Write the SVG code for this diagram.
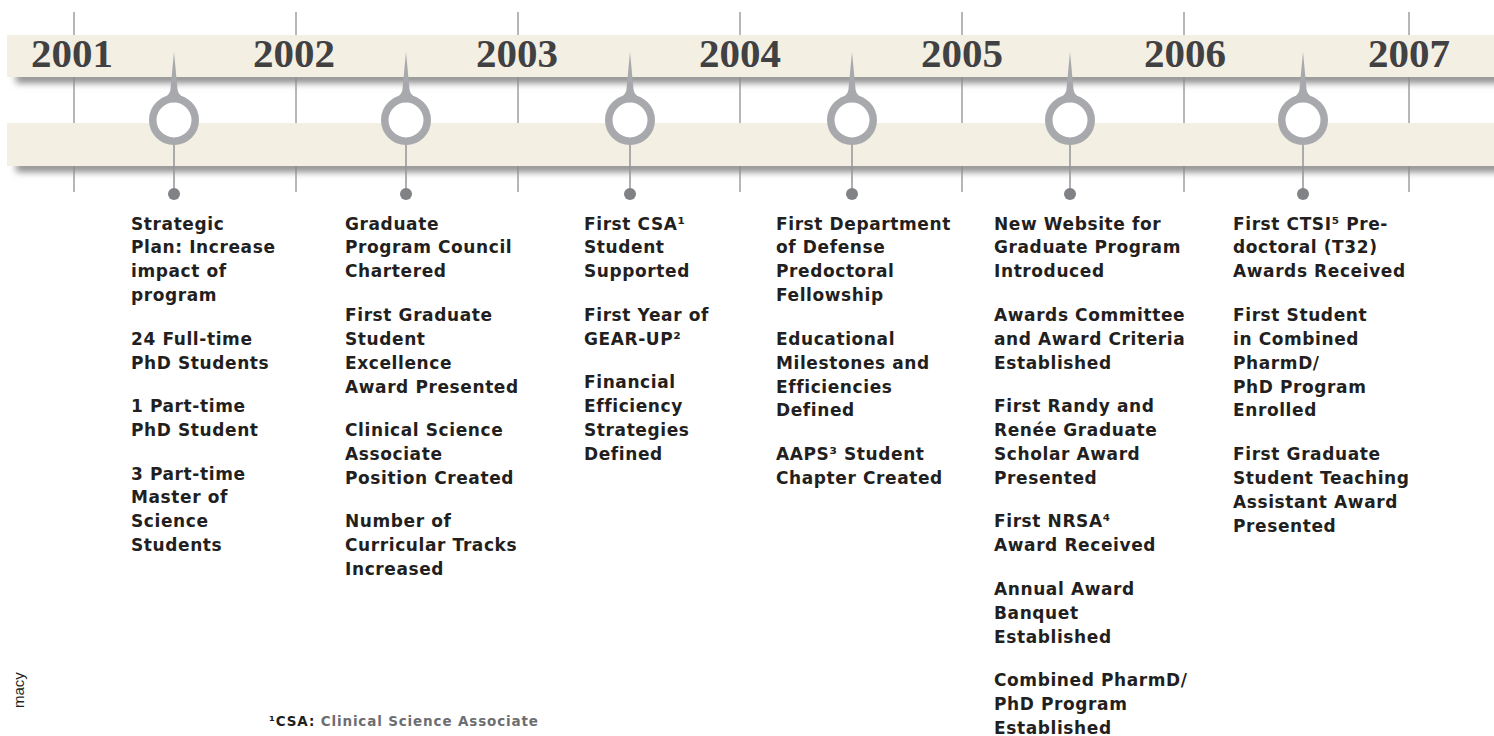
<svg xmlns="http://www.w3.org/2000/svg" width="1494" height="736" viewBox="0 0 1494 736">
<style>
.band{fill:#f3efe3}
.tick{stroke:#6d6e71;stroke-width:1}
.year{font-family:"Liberation Serif",serif;font-weight:bold;font-size:41px;fill:#414042;text-anchor:middle}
.ring{fill:#fff;stroke:#a7a9ac;stroke-width:7.5}
.spike{fill:#a7a9ac}
.stem{stroke:#939598;stroke-width:1.5}
.dot{fill:#808285}
.t{font-family:"DejaVu Sans","Liberation Sans",sans-serif;font-weight:bold;font-size:17px;letter-spacing:0.6px;fill:#231f20}
.fn{font-family:"DejaVu Sans","Liberation Sans",sans-serif;font-weight:bold;font-size:13.5px;letter-spacing:0.85px;fill:#6d6e71}
.side{font-family:"Liberation Sans",sans-serif;font-size:15px;fill:#231f20}
</style>
<defs>
<filter id="blur" x="-5%" y="-200%" width="110%" height="500%"><feGaussianBlur stdDeviation="3.5"/></filter>
<g id="pin"><path class="spike" d="M0,-68 L3.6,-30 Q5,-23.5 12,-22 L-12,-22 Q-5,-23.5 -3.6,-30 Z"/><circle class="ring" cx="0" cy="0" r="21.25"/></g>
</defs>
<rect width="1494" height="736" fill="#fff"/>
<g id="axis">
<g id="ticks">
<line class="tick" x1="74" y1="12" x2="74" y2="192"/>
<line class="tick" x1="296" y1="12" x2="296" y2="192"/>
<line class="tick" x1="518" y1="12" x2="518" y2="192"/>
<line class="tick" x1="740" y1="12" x2="740" y2="192"/>
<line class="tick" x1="962" y1="12" x2="962" y2="192"/>
<line class="tick" x1="1184" y1="12" x2="1184" y2="192"/>
<line class="tick" x1="1409" y1="12" x2="1409" y2="192"/>
</g>
<rect x="16" y="73" width="1490" height="10" fill="#8a8a8a" filter="url(#blur)"/>
<rect class="band" x="7" y="35" width="1487" height="42"/>
<rect x="16" y="162" width="1490" height="10" fill="#8a8a8a" filter="url(#blur)"/>
<rect class="band" x="7" y="123" width="1487" height="43"/>
<text class="year" x="72" y="67">2001</text>
<text class="year" x="294" y="67">2002</text>
<text class="year" x="517" y="67">2003</text>
<text class="year" x="740" y="67">2004</text>
<text class="year" x="962" y="67">2005</text>
<text class="year" x="1185" y="67">2006</text>
<text class="year" x="1409" y="67">2007</text>
</g>
<g id="connectors">
<line class="stem" x1="174" y1="145" x2="174" y2="194"/>
<line class="stem" x1="406" y1="145" x2="406" y2="194"/>
<line class="stem" x1="630" y1="145" x2="630" y2="194"/>
<line class="stem" x1="852" y1="145" x2="852" y2="194"/>
<line class="stem" x1="1070" y1="145" x2="1070" y2="194"/>
<line class="stem" x1="1303" y1="145" x2="1303" y2="194"/>
</g>
<g id="node2001">
<use href="#pin" x="174" y="120"/><circle class="dot" cx="174" cy="194" r="6"/>
<text class="t" y="229.5"><tspan x="131">Strategic</tspan><tspan x="131" dy="23.9">Plan: Increase</tspan><tspan x="131" dy="23.9">impact of</tspan><tspan x="131" dy="23.9">program</tspan><tspan x="131" dy="43.5">24 Full-time</tspan><tspan x="131" dy="23.9">PhD Students</tspan><tspan x="131" dy="43.5">1 Part-time</tspan><tspan x="131" dy="23.9">PhD Student</tspan><tspan x="131" dy="43.5">3 Part-time</tspan><tspan x="131" dy="23.9">Master of</tspan><tspan x="131" dy="23.9">Science</tspan><tspan x="131" dy="23.9">Students</tspan></text>
</g>
<g id="node2002">
<use href="#pin" x="406" y="120"/><circle class="dot" cx="406" cy="194" r="6"/>
<text class="t" y="229.5"><tspan x="345">Graduate</tspan><tspan x="345" dy="23.9">Program Council</tspan><tspan x="345" dy="23.9">Chartered</tspan><tspan x="345" dy="43.5">First Graduate</tspan><tspan x="345" dy="23.9">Student</tspan><tspan x="345" dy="23.9">Excellence</tspan><tspan x="345" dy="23.9">Award Presented</tspan><tspan x="345" dy="43.5">Clinical Science</tspan><tspan x="345" dy="23.9">Associate</tspan><tspan x="345" dy="23.9">Position Created</tspan><tspan x="345" dy="43.5">Number of</tspan><tspan x="345" dy="23.9">Curricular Tracks</tspan><tspan x="345" dy="23.9">Increased</tspan></text>
</g>
<g id="node2003">
<use href="#pin" x="630" y="120"/><circle class="dot" cx="630" cy="194" r="6"/>
<text class="t" y="229.5"><tspan x="584">First CSA¹</tspan><tspan x="584" dy="23.9">Student</tspan><tspan x="584" dy="23.9">Supported</tspan><tspan x="584" dy="43.5">First Year of</tspan><tspan x="584" dy="23.9">GEAR-UP²</tspan><tspan x="584" dy="43.5">Financial</tspan><tspan x="584" dy="23.9">Efficiency</tspan><tspan x="584" dy="23.9">Strategies</tspan><tspan x="584" dy="23.9">Defined</tspan></text>
</g>
<g id="node2004">
<use href="#pin" x="852" y="120"/><circle class="dot" cx="852" cy="194" r="6"/>
<text class="t" y="229.5"><tspan x="776">First Department</tspan><tspan x="776" dy="23.9">of Defense</tspan><tspan x="776" dy="23.9">Predoctoral</tspan><tspan x="776" dy="23.9">Fellowship</tspan><tspan x="776" dy="43.5">Educational</tspan><tspan x="776" dy="23.9">Milestones and</tspan><tspan x="776" dy="23.9">Efficiencies</tspan><tspan x="776" dy="23.9">Defined</tspan><tspan x="776" dy="43.5">AAPS³ Student</tspan><tspan x="776" dy="23.9">Chapter Created</tspan></text>
</g>
<g id="node2005">
<use href="#pin" x="1070" y="120"/><circle class="dot" cx="1070" cy="194" r="6"/>
<text class="t" y="229.5"><tspan x="994">New Website for</tspan><tspan x="994" dy="23.9">Graduate Program</tspan><tspan x="994" dy="23.9">Introduced</tspan><tspan x="994" dy="43.5">Awards Committee</tspan><tspan x="994" dy="23.9">and Award Criteria</tspan><tspan x="994" dy="23.9">Established</tspan><tspan x="994" dy="43.5">First Randy and</tspan><tspan x="994" dy="23.9">Renée Graduate</tspan><tspan x="994" dy="23.9">Scholar Award</tspan><tspan x="994" dy="23.9">Presented</tspan><tspan x="994" dy="43.5">First NRSA⁴</tspan><tspan x="994" dy="23.9">Award Received</tspan><tspan x="994" dy="43.5">Annual Award</tspan><tspan x="994" dy="23.9">Banquet</tspan><tspan x="994" dy="23.9">Established</tspan><tspan x="994" dy="43.5">Combined PharmD/</tspan><tspan x="994" dy="23.9">PhD Program</tspan><tspan x="994" dy="23.9">Established</tspan></text>
</g>
<g id="node2006">
<use href="#pin" x="1303" y="120"/><circle class="dot" cx="1303" cy="194" r="6"/>
<text class="t" y="229.5"><tspan x="1233">First CTSI⁵ Pre-</tspan><tspan x="1233" dy="23.9">doctoral (T32)</tspan><tspan x="1233" dy="23.9">Awards Received</tspan><tspan x="1233" dy="43.5">First Student</tspan><tspan x="1233" dy="23.9">in Combined</tspan><tspan x="1233" dy="23.9">PharmD/</tspan><tspan x="1233" dy="23.9">PhD Program</tspan><tspan x="1233" dy="23.9">Enrolled</tspan><tspan x="1233" dy="43.5">First Graduate</tspan><tspan x="1233" dy="23.9">Student Teaching</tspan><tspan x="1233" dy="23.9">Assistant Award</tspan><tspan x="1233" dy="23.9">Presented</tspan></text>
</g>
<g id="footnote">
<text class="fn" x="269" y="726"><tspan fill="#231f20">¹CSA:</tspan> Clinical Science Associate</text>
</g>
<text class="side" transform="translate(24,708) rotate(-90)">macy</text>
</svg>
